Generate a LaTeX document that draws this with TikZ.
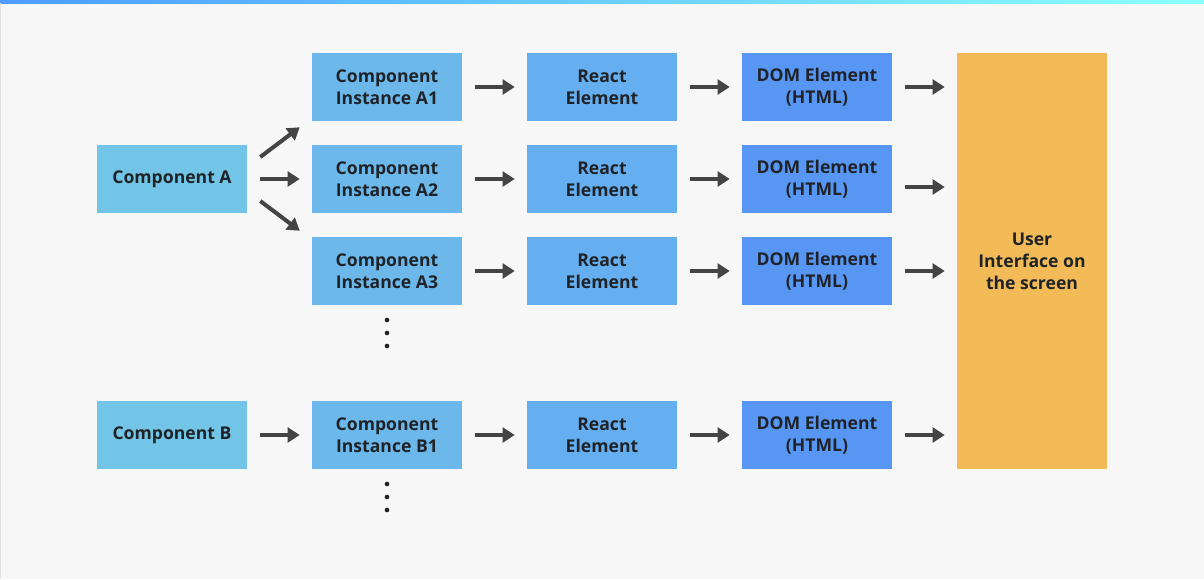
\documentclass[tikz,border=0pt]{standalone}
\usepackage{fontspec}
\setmainfont{Open Sans}
\usetikzlibrary{positioning}
\usetikzlibrary{arrows.meta}
\usetikzlibrary{calc}

\definecolor{bgcol}{HTML}{F7F7F7}
\definecolor{compcol}{HTML}{72C5E6}
\definecolor{instcol}{HTML}{6CB8EA}
\definecolor{reactcol}{HTML}{65AEEF}
\definecolor{domcol}{HTML}{5896F4}
\definecolor{uicol}{HTML}{F2BB57}
\definecolor{arrcol}{HTML}{444444}
\definecolor{txtcol}{HTML}{1F2328}

\tikzset{
  box/.style={rectangle, minimum width=112.5pt, minimum height=51pt, inner sep=0pt,
    align=center, font=\bfseries\fontsize{13.2}{16.5}\selectfont, text=txtcol},
  flow/.style={-{Triangle[length=9pt,width=11pt]}, line width=3pt, draw=arrcol,
    shorten <=9.75pt, shorten >=9pt},
  dot/.style={circle, fill=txtcol, inner sep=0pt, minimum size=3.5pt}
}

\begin{document}
\begin{tikzpicture}[x=0.75pt, y=-0.75pt]
	 % canvas and the thin bar on top
	 \fill[bgcol] (0,0) rectangle (1204,579);
	 \useasboundingbox (0,0) rectangle (1204,579);
	 \shade[left color=blue!55!cyan!70, right color=cyan!45] (0,0) rectangle (1204,3);
	 \draw[black!12] (0.5,3) -- (0.5,579);

	 % the two components
	 \node[box, fill=compcol] (compA) at (172,179) {Component A};
	 \node[box, fill=compcol] (compB) at (172,435) {Component B};

	 % rows of component A
	 \foreach \i/\y in {1/87,2/179,3/271} {
	 	\node[box, fill=instcol] (inst\i) at (387,\y) {Component\\Instance A\i};
	 	\node[box, fill=reactcol] (react\i) at (602,\y) {React\\Element};
	 	\node[box, fill=domcol] (dom\i) at (817,\y) {DOM Element\\(HTML)};
	 	\draw[flow] (inst\i) -- (react\i);
	 	\draw[flow] (react\i) -- (dom\i);
	 }

	 % row of component B
	 \node[box, fill=instcol] (instB) at (387,435) {Component\\Instance B1};
	 \node[box, fill=reactcol] (reactB) at (602,435) {React\\Element};
	 \node[box, fill=domcol] (domB) at (817,435) {DOM Element\\(HTML)};

	 % user interface
	 \node[box, fill=uicol, minimum height=312pt] (ui) at (1032,261) {User\\Interface on\\the screen};

	 % arrows out of the components
	 \draw[flow, shorten <=0pt, shorten >=0pt] ($(compA.east)+(13,-22)$) -- ($(inst1.south west)+(-12,6)$);
	 \draw[flow] (compA) -- (inst2);
	 \draw[flow, shorten <=0pt, shorten >=0pt] ($(compA.east)+(13,22)$) -- ($(inst3.north west)+(-12,-6)$);
	 \draw[flow] (compB) -- (instB);
	 \draw[flow] (instB) -- (reactB);
	 \draw[flow] (reactB) -- (domB);

	 % arrows into the screen
	 \draw[flow] (dom1.east) -- (dom1.east -| ui.west);
	 \draw[flow] ($(dom2.east)+(0,8)$) -- ($(dom2.east -| ui.west)+(0,8)$);
	 \draw[flow] (dom3.east) -- (dom3.east -| ui.west);
	 \draw[flow] (domB.east) -- (domB.east -| ui.west);

	 % more instances
	 \foreach \y in {320,333,346,484,497,510} {
	 	\node[dot] (d\y) at (387,\y) {};
	 }
\end{tikzpicture}
\end{document}
